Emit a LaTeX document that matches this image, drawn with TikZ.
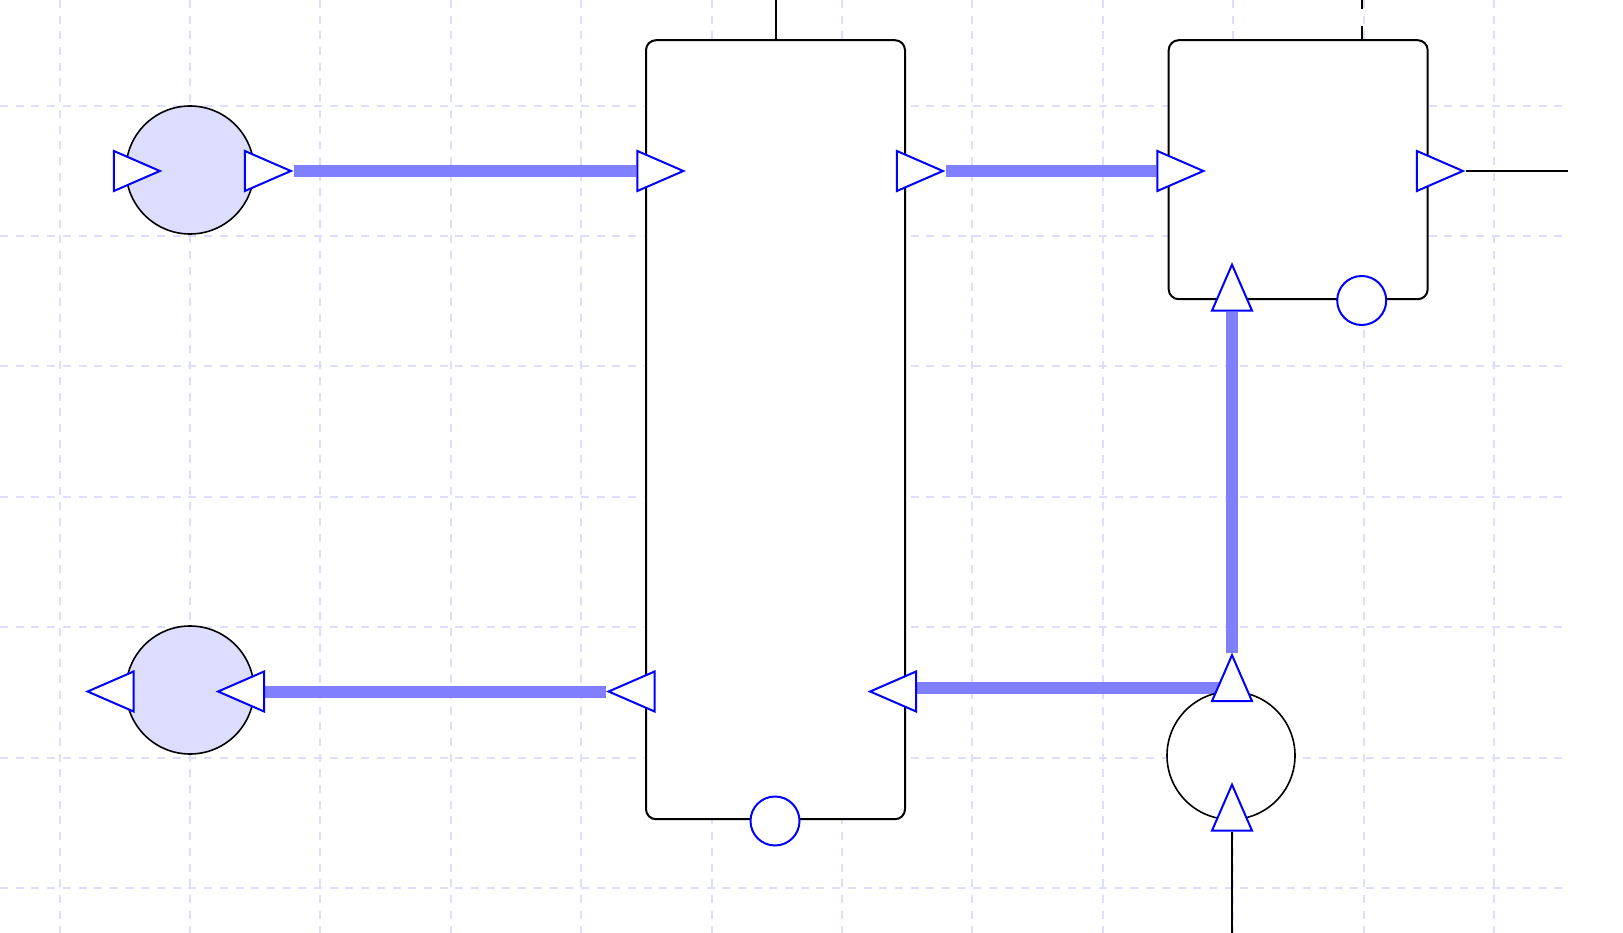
\documentclass[tikz,border=0pt]{standalone}
\usepackage{tikz}
\usetikzlibrary{arrows.meta,positioning,shapes.geometric,backgrounds}
\definecolor{gridblue}{HTML}{DDDDFF}
\definecolor{portblue}{HTML}{0000FF}
\definecolor{flowblue}{HTML}{8080FF}

\begin{document}
\begin{tikzpicture}[x=1pt,y=-1pt,
 gridline/.style={draw=gridblue,line width=2pt,dash pattern=on 8pt off 7.7pt},
 box/.style={draw,rounded corners=10pt,line width=2pt,fill=white,minimum width=259pt,inner sep=0pt},
 vessel/.style={draw,circle,line width=1.6pt,minimum size=128pt,inner sep=0pt,fill=white},
 port/.style={draw=portblue,line width=2pt,fill=white,isosceles triangle,isosceles triangle stretches,
  minimum width=40pt,minimum height=46pt,inner sep=0pt,shape border rotate=#1},
 tap/.style={draw=portblue,line width=2pt,fill=white,circle,minimum size=49pt,inner sep=0pt},
 flow/.style={draw=flowblue,line width=12pt},
 wire/.style={draw=black,line width=2pt}]
\useasboundingbox (0,0) rectangle (1623,933);
\node[box,minimum height=779pt] (tank) at (775.5,429.7) {};
\node[box,minimum height=259pt,right=261.7pt of tank.north east,anchor=north west] (heater) {};
\node[vessel,fill=gridblue] (source) at (190,170) {};
\node[vessel,fill=gridblue] (sink) at (190,690) {};
\node[vessel] (pump) at (1231,755.5) {};
\node[port=0] (sourcein) at (127,171) {};
\node[port=0] (sourceout) at (258,171) {};
\node[port=0] (tankin) at (650.5,171) {};
\node[port=0] (tankout) at (910,171) {};
\node[port=0] (heaterin) at (1170.5,171) {};
\node[port=0] (heaterout) at (1430,171) {};
\node[port=180] (sinkout) at (120.5,691.5) {};
\node[port=180] (sinkin) at (251,691.5) {};
\node[port=180] (tankret) at (641.5,691.5) {};
\node[port=180] (tankback) at (903,691.5) {};
\node[port=90] (heaterret) at (1232,297.5) {};
\node[port=90] (pumpout) at (1232,688) {};
\node[port=90] (pumpin) at (1232,817.5) {};
\node[tap] (tanktap) at (775,821) {};
\node[tap] (heatertap) at (1361.7,300.5) {};
\coordinate (tanktop) at (776,0);
\coordinate (heatertop) at (1362,0);
\coordinate (heaterend) at (1568,171);
\coordinate (pumpend) at (1232,933);
\begin{scope}[on background layer]
\foreach \i in {0,...,11}
 \draw[gridline] (59.5+130.4*\i,0) -- (59.5+130.4*\i,933);
\foreach \j in {0,...,6}
 \draw[gridline] (0,105.7+130.4*\j) -- (1568,105.7+130.4*\j);
\draw[flow] (sourceout.apex) -- (tankin.lower side);
\draw[flow] (tankout.apex) -- (heaterin.lower side);
\draw[flow] (pumpout.apex) -- (heaterret.lower side);
\draw[flow] (pumpout.center) -- (pumpout.center -| tankback.lower side);
\draw[flow] (tankret.apex) -- (sinkin.lower side);
\draw[wire] (heaterout.apex) -- (heaterend);
\draw[wire] (pumpin.lower side) -- (pumpend);
\draw[wire] (tanktop) -- (tanktop |- tank.north);
\draw[wire,dash pattern=on 9pt off 17pt on 14pt] (heatertop) -- (heatertop |- heater.north);
\end{scope}
\end{tikzpicture}
\end{document}
